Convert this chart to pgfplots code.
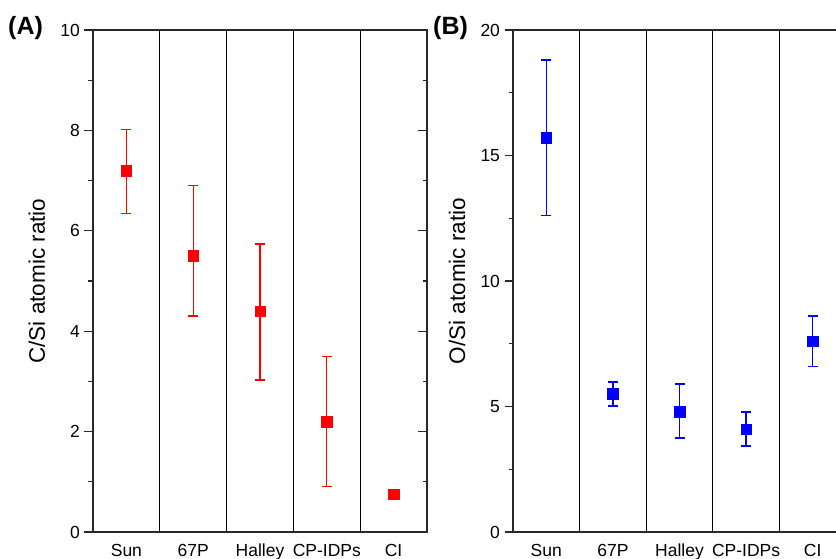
\documentclass[border=0pt]{standalone}
\usepackage{pgfplots}
\pgfplotsset{compat=1.18}
\usepackage{fontspec}
\setmainfont{Liberation Sans}
\definecolor{axgray}{RGB}{40,40,40}
\pgfplotsset{
  panelcommon/.style={
    anchor=south west, scale only axis, height=502pt, width=334pt,
    xmin=0.5, xmax=5.5, ymin=0,
    xtick={1,2,3,4,5}, xticklabels={Sun,67P,Halley,CP-IDPs,CI},
    x tick style={draw=none},
    extra x ticks={1.5,2.5,3.5,4.5}, extra x tick labels={},
    extra x tick style={grid=major, major grid style={black, line width=1.1pt}, tick style={draw=none}},
    ytick pos=left, tick align=outside, minor y tick num=1,
    major tick length=8.5pt, minor tick length=4.5pt,
    axis line style={line width=1.2pt, axgray},
    every tick/.style={axgray, line width=1.2pt},
    ticklabel style={font=\fontsize{17.5}{20}\selectfont},
    xticklabel style={anchor=base, yshift=-16pt},
    yticklabel style={xshift=-1pt},
    /pgf/number format/assume math mode=true,
    ylabel style={at={(axis description cs:-0.168,0.5)}, anchor=center,
      font=\fontsize{22.5}{26}\selectfont},
  },
  panelmirror/.style={
    anchor=south west, scale only axis, height=502pt, width=334pt,
    xmin=0.5, xmax=5.5, ymin=0,
    hide x axis, axis y line*=right, ytick pos=right, tick align=inside,
    yticklabels={}, minor y tick num=1,
    major tick length=9pt, minor tick length=4.5pt,
    axis line style={line width=1.2pt, axgray},
    every tick/.style={axgray, line width=1.2pt},
  },
}
\pgfplotstableread{
x y ep em
1 7.2 0.82 0.85
2 5.5 1.4 1.2
3 4.4 1.34 1.37
4 2.2 1.29 1.3
}\csdata
\pgfplotstableread{
x y ep em
1 15.7 3.1 3.1
2 5.5 0.48 0.48
3 4.8 1.1 1.05
4 4.1 0.68 0.67
5 7.6 1.0 1.0
}\osdata
\begin{document}
\begin{tikzpicture}
\path[use as bounding box] (0pt,0pt) rectangle (836pt,558pt);
\clip (0pt,0pt) rectangle (836pt,558pt);
% Panel A
\begin{axis}[panelcommon, at={(93pt,26pt)}, ymax=10, ytick={0,2,4,6,8,10},
  ylabel={C/Si atomic ratio}]
\addplot[only marks, mark=square*, mark size=5.3pt, color=red, mark options={fill=red, draw=red},
  error bars/.cd, y dir=both, y explicit,
  error bar style={line width=1.3pt, draw=red, color=red},
  error mark options={rotate=90, mark size=5pt, line width=1.3pt, draw=red, color=red}]
  table[x=x, y=y, y error plus=ep, y error minus=em] {\csdata};
\addplot[only marks, mark=square*, mark size=5.3pt, color=red, mark options={fill=red, draw=red}] coordinates {(5,0.75)};
\end{axis}
\begin{axis}[panelmirror, at={(93pt,26pt)}, ymax=10, ytick={0,2,4,6,8,10}]
\addplot[draw=none] coordinates {(1,1)};
\end{axis}
% Panel B
\begin{axis}[panelcommon, at={(513pt,26pt)}, width=333pt, ymax=20, ytick={0,5,10,15,20},
  ylabel={O/Si atomic ratio}]
\addplot[only marks, mark=square*, mark size=5.3pt, color=blue, mark options={fill=blue, draw=blue},
  error bars/.cd, y dir=both, y explicit,
  error bar style={line width=1.3pt, draw=blue, color=blue},
  error mark options={rotate=90, mark size=5pt, line width=1.3pt, draw=blue, color=blue}]
  table[x=x, y=y, y error plus=ep, y error minus=em] {\osdata};
\end{axis}
\begin{axis}[panelmirror, at={(513pt,26pt)}, width=333pt, ymax=20, ytick={0,5,10,15,20}]
\addplot[draw=none] coordinates {(1,1)};
\end{axis}
\node[anchor=base west, inner sep=0pt, font=\bfseries\fontsize{25}{29}\selectfont] at (8pt,523pt) {(A)};
\node[anchor=base west, inner sep=0pt, font=\bfseries\fontsize{25}{29}\selectfont] at (433pt,523pt) {(B)};
\end{tikzpicture}
\end{document}
